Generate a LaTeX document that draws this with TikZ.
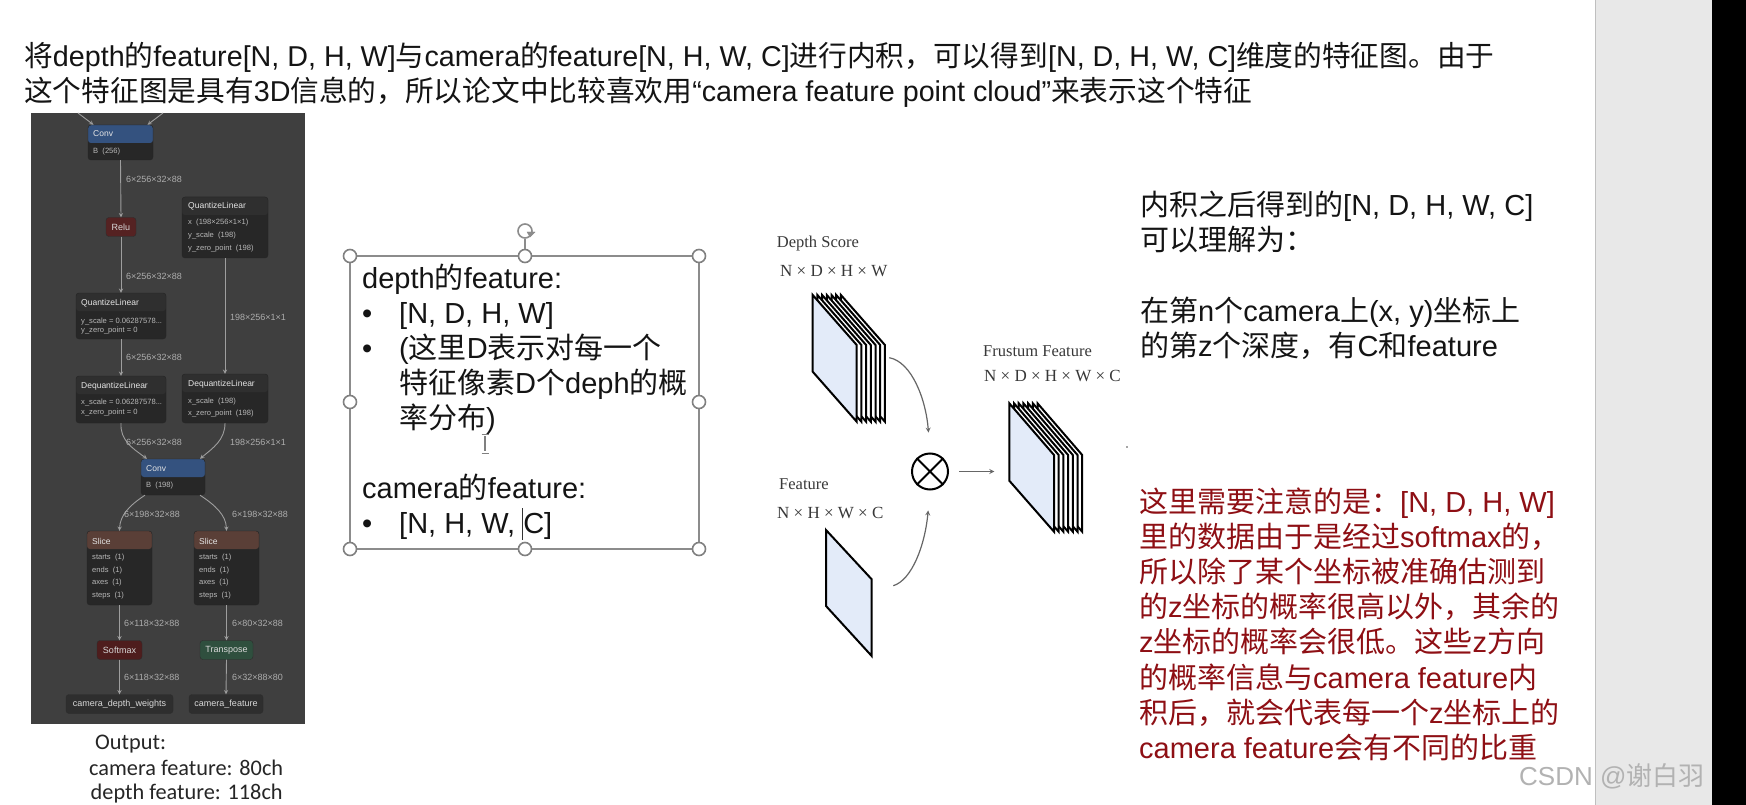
\documentclass[tikz,border=0pt]{standalone}
\usepackage{fontspec}
\setmainfont{Liberation Sans}
\newfontfamily\cjkfont{Noto Sans CJK SC}
\newfontfamily\timesfont{Liberation Serif}
\newfontfamily\calibrifont{Carlito}
\usetikzlibrary{positioning}
% Chinese characters switch to the CJK font by themselves
\newXeTeXintercharclass\cjkclass
\newcount\zhchar
\zhchar=32 \loop \XeTeXcharclass\zhchar=0 \advance\zhchar by 1 \ifnum\zhchar<127 \repeat
\XeTeXcharclass"00D7=0 \XeTeXcharclass"201C=0 \XeTeXcharclass"201D=0
\zhchar="4E00 \loop \XeTeXcharclass\zhchar=\cjkclass \advance\zhchar by 1 \ifnum\zhchar<"A000 \repeat
\XeTeXcharclass"3002=\cjkclass \XeTeXcharclass"FF0C=\cjkclass \XeTeXcharclass"FF1A=\cjkclass
\XeTeXinterchartokenstate=1
\XeTeXinterchartoks 0 \cjkclass={\begingroup\cjkfont}
\XeTeXinterchartoks 4095 \cjkclass={\begingroup\cjkfont}
\XeTeXinterchartoks \cjkclass 0={\endgroup}
\XeTeXinterchartoks \cjkclass 4095={\endgroup}
\definecolor{panelgrey}{HTML}{3F3F3F}
\definecolor{cardgrey}{HTML}{272727}
\definecolor{headgrey}{HTML}{2F2F2F}
\definecolor{convblue}{HTML}{34527F}
\definecolor{slicebrown}{HTML}{5A3F37}
\definecolor{relured}{HTML}{552222}
\definecolor{softred}{HTML}{4E1D1D}
\definecolor{transgreen}{HTML}{2F4F3E}
\definecolor{planeblue}{HTML}{E3EBF9}
\definecolor{notered}{HTML}{8E0F14}
\tikzset{
  bodytext/.style={anchor=base west,inner sep=0pt,text=black!92,font=\fontsize{29}{35}\selectfont},
  headtext/.style={bodytext,font=\fontsize{28.7}{35}\selectfont},
  opcard/.style n args={3}{draw=black!40!panelgrey,fill=cardgrey,rounded corners=3,inner sep=0pt,minimum width=#1,minimum height=#2,
    path picture={\fill[#3] (path picture bounding box.north west) rectangle ([yshift=-18pt]path picture bounding box.north east);}},
  pillcard/.style={draw=black!30!panelgrey,rounded corners=3,inner sep=0pt,minimum height=19pt,text=white!85!black,font=\fontsize{9}{10}\selectfont},
  cardtitle/.style={anchor=west,inner sep=0pt,text=white!90!black,font=\fontsize{8.5}{10}\selectfont},
  cardattr/.style={anchor=west,inner sep=0pt,text=white!72!black,font=\fontsize{7.6}{9}\selectfont},
  shapetext/.style={anchor=west,inner sep=0pt,text=white!68!black,font=\fontsize{9}{10}\selectfont},
  netline/.style={->,>=stealth,draw=white!62!black,line width=0.9pt},
  handle/.style={circle,draw=black!50,fill=white,line width=1.6pt,inner sep=0pt,minimum size=13pt},
  plane/.style={draw=black,line width=2pt,line join=miter},
  figtext/.style={anchor=base west,inner sep=0pt,text=black!78,font=\timesfont\fontsize{16.5}{20}\selectfont},
  figdim/.style={figtext,font=\timesfont\fontsize{17}{20}\selectfont},
  figline/.style={->,>=stealth,draw=black!60,line width=1.2pt},
  outtext/.style={anchor=base west,inner sep=0pt,font=\calibrifont\fontsize{22.3}{25}\selectfont,text=black!85},
}
\begin{document}
\begin{tikzpicture}[x=1pt,y=-1pt]
\useasboundingbox (0,0) rectangle (1746,805);
\fill[white] (0,0) rectangle (1746,805);
% window at the right
\fill[black!9] (1595,0) rectangle (1712,805);
\draw[black!25,line width=1pt] (1595,0) -- (1595,805);
\fill[black] (1712,0) rectangle (1746,805);
% heading
\node[headtext] (head1) at (24,67) {将depth的feature[N, D, H, W]与camera的feature[N, H, W, C]进行内积，可以得到[N, D, H, W, C]维度的特征图。由于};
\node[headtext] (head2) at (24,102) {这个特征图是具有3D信息的，所以论文中比较喜欢用“camera feature point cloud”来表示这个特征};
% network
\fill[panelgrey] (31,113) rectangle (305,724);
\node[opcard={65pt}{35pt}{convblue}] (conv1) at (120.5,142.5) {};
\node[pillcard,fill=relured,minimum width=30pt] (relu) at (121,227) {Relu};
\node[opcard={90pt}{46pt}{headgrey}] (qlleft) at (121,316) {};
\node[opcard={90pt}{47pt}{headgrey}] (dqleft) at (121,399.5) {};
\node[opcard={86pt}{61pt}{headgrey}] (qlright) at (225,227.5) {};
\node[opcard={86pt}{49pt}{headgrey}] (dqright) at (225,398.5) {};
\node[opcard={64pt}{36pt}{convblue}] (conv2) at (173,477) {};
\node[opcard={65pt}{74pt}{slicebrown}] (sliceleft) at (119.5,568) {};
\node[opcard={65pt}{74pt}{slicebrown}] (sliceright) at (226.5,568) {};
\node[pillcard,fill=softred,minimum width=45pt] (softmax) at (119.5,650) {Softmax};
\node[pillcard,fill=transgreen,minimum width=53pt] (transpose) at (226.5,650) {Transpose};
\node[pillcard,fill=cardgrey!70!panelgrey,minimum width=107pt] (depthweights) at (119.5,704) {camera\_depth\_weights};
\node[pillcard,fill=cardgrey!70!panelgrey,minimum width=74pt] (camfeature) at (226,704) {camera\_feature};
\node[cardtitle] (t1) at (93,134) {Conv};
\node[cardattr] (a1) at (93,152) {B\ \ (256)};
\node[cardtitle] (t2) at (81,303) {QuantizeLinear};
\node[cardattr] (a2) at (81,322) {y\_scale = 0.06287578...};
\node[cardattr] (a3) at (81,331) {y\_zero\_point = 0};
\node[cardtitle] (t3) at (81,386) {DequantizeLinear};
\node[cardattr] (a4) at (81,403) {x\_scale = 0.06287578...};
\node[cardattr] (a5) at (81,413) {x\_zero\_point = 0};
\node[cardtitle] (t4) at (188,206) {QuantizeLinear};
\node[cardattr] (a6) at (188,223) {x\ \ (198×256×1×1)};
\node[cardattr] (a7) at (188,236) {y\_scale\ \ (198)};
\node[cardattr] (a8) at (188,249) {y\_zero\_point\ \ (198)};
\node[cardtitle] (t5) at (188,384) {DequantizeLinear};
\node[cardattr] (a9) at (188,402) {x\_scale\ \ (198)};
\node[cardattr] (a10) at (188,414) {x\_zero\_point\ \ (198)};
\node[cardtitle] (t6) at (146,469) {Conv};
\node[cardattr] (a11) at (146,486) {B\ \ (198)};
\foreach \sx/\sname in {92/l,199/r}{
  \node[cardtitle] (slicetitle\sname) at (\sx,541) {Slice};
  \node[cardattr] (starts\sname) at (\sx,558) {starts\ \ (1)};
  \node[cardattr] (ends\sname) at (\sx,571) {ends\ \ (1)};
  \node[cardattr] (axes\sname) at (\sx,583) {axes\ \ (1)};
  \node[cardattr] (steps\sname) at (\sx,596) {steps\ \ (1)};
}
\coordinate (inleft) at (78,113);
\coordinate (inright) at (163,113);
\draw[netline] (inleft) -- ([xshift=-27pt]conv1.north);
\draw[netline] (inright) -- ([xshift=27pt]conv1.north);
\draw[netline] (conv1.south) -- (relu.north);
\draw[netline] (relu.south) -- (qlleft.north);
\draw[netline] (qlleft.south) -- (dqleft.north);
\draw[netline] (qlright.south) -- (dqright.north);
\draw[netline] (dqleft.south) .. controls (120,440) and (132,448) .. ([xshift=-26pt]conv2.north);
\draw[netline] (dqright.south) .. controls (225,440) and (213,448) .. ([xshift=27pt]conv2.north);
\draw[netline] ([xshift=-28pt]conv2.south) .. controls (130,505) and (120,515) .. (sliceleft.north);
\draw[netline] ([xshift=27pt]conv2.south) .. controls (215,505) and (226,515) .. (sliceright.north);
\draw[netline] (sliceleft.south) -- (softmax.north);
\draw[netline] (sliceright.south) -- (transpose.north);
\draw[netline] (softmax.south) -- (depthweights.north);
\draw[netline] (transpose.south) -- (camfeature.north);
\node[shapetext] (s1) at (126,179) {6×256×32×88};
\node[shapetext] (s2) at (126,276) {6×256×32×88};
\node[shapetext] (s3) at (126,357) {6×256×32×88};
\node[shapetext] (s4) at (230,317) {198×256×1×1};
\node[shapetext] (s5) at (126,442) {6×256×32×88};
\node[shapetext] (s6) at (230,442) {198×256×1×1};
\node[shapetext] (s7) at (124,514) {6×198×32×88};
\node[shapetext] (s8) at (232,514) {6×198×32×88};
\node[shapetext] (s9) at (124,623) {6×118×32×88};
\node[shapetext] (s10) at (232,623) {6×80×32×88};
\node[shapetext] (s11) at (124,677) {6×118×32×88};
\node[shapetext] (s12) at (232,677) {6×32×88×80};
% output channels
\node[outtext] (out1) at (95,749) {Output:};
\node[outtext] (out2) at (89,775) {camera feature: 80ch};
\node[outtext] (out3) at (90.5,799.5) {depth feature: 118ch};
% selected text box
\draw[black!45,line width=1.2pt] (350,256) rectangle (699,549);
\foreach \hx/\hy [count=\i] in {350/256,525/256,699/256,350/402,699/402,350/549,525/549,699/549}
  \node[handle] (handle\i) at (\hx,\hy) {};
\node[circle,draw=black!45,line width=1.6pt,inner sep=0pt,minimum size=14pt] (rotate) at (525,231) {};
\draw[black!45,line width=1.2pt] (rotate) -- (handle2);
\draw[black!45,fill=black!45] (527,232) -- (535,232) -- (530,237) -- cycle;
\node[bodytext] (boxa) at (362,288) {depth的feature:};
\node[bodytext] (boxb) at (362,323) {•};
\node[bodytext] (boxc) at (399,323) {[N, D, H, W]};
\node[bodytext] (boxd) at (362,358) {•};
\node[bodytext] (boxe) at (399,358) {(这里D表示对每一个};
\node[bodytext] (boxf) at (399,393) {特征像素D个deph的概};
\node[bodytext] (boxg) at (399,428) {率分布)};
\node[bodytext] (boxh) at (362,498) {camera的feature:};
\node[bodytext] (boxi) at (362,533) {•};
\node[bodytext] (boxj) at (399,533) {[N, H, W, C]};
\draw[black!80,line width=0.7pt] (522.3,508) -- (522.3,540);
\draw[black!50,line width=2pt] (485,436) -- (485,451);
\draw[black!50,line width=1pt] (481.5,434.5) -- (488.5,434.5) (481.5,453) -- (488.5,453);
% feature stacks
\foreach \i in {6,...,1}
  \draw[plane,fill=white] (812.7+\i*4.7,295) -- (856.7+\i*4.7,345) -- (856.7+\i*4.7,421.7) -- (812.7+\i*4.7,371.7) -- cycle;
\draw[plane,fill=planeblue] (812.7,295) -- (856.7,345) -- (856.7,421.7) -- (812.7,371.7) -- cycle;
\foreach \i in {6,...,1}
  \draw[plane,fill=white] (1009.3+\i*4.7,403.3) -- (1054+\i*4.7,455) -- (1054+\i*4.7,531.7) -- (1009.3+\i*4.7,480.7) -- cycle;
\draw[plane,fill=planeblue] (1009.3,403.3) -- (1054,455) -- (1054,531.7) -- (1009.3,480.7) -- cycle;
\draw[plane,fill=planeblue] (826,530) -- (871.7,579.3) -- (871.7,656) -- (826,606) -- cycle;
\node[circle,draw=black,line width=2pt,inner sep=0pt,minimum size=36pt] (otimes) at (930,471.5) {};
\draw[black,line width=2pt] (otimes.north west) -- (otimes.south east) (otimes.north east) -- (otimes.south west);
\coordinate (depthout) at (889.3,357.7);
\coordinate (featout) at (893.3,585.7);
\coordinate (frustumin) at (994.3,471.5);
\draw[figline,shorten >=20pt] (depthout) .. controls (912,362) and (926,400) .. (otimes.north);
\draw[figline,shorten >=20pt] (featout) .. controls (912,580) and (925,545) .. (otimes.south);
\draw[figline,shorten <=10pt] (otimes.east) -- (frustumin);
\node[figtext] (depthname) at (776.7,247.7) {Depth Score};
\node[figdim] (depthdim) at (780,276.7) {N × D × H × W};
\node[figtext] (featname) at (779,489) {Feature};
\node[figdim] (featdim) at (777,518) {N × H × W × C};
\node[figtext] (frustname) at (983,356.7) {Frustum Feature};
\node[figdim] (frustdim) at (984,381) {N × D × H × W × C};
\fill[black!70] (1127,447) circle (0.8);
% right hand notes
\foreach \txt/\ly [count=\i] in {{内积之后得到的[N, D, H, W, C]}/216,{可以理解为：}/251,{在第n个camera上(x, y)坐标上}/321,{的第z个深度，有C和feature}/356}
  \node[bodytext] (note\i) at (1140,\ly) {\txt};
\foreach \txt [count=\i] in {{这里需要注意的是：[N, D, H, W]},{里的数据由于是经过softmax的，},{所以除了某个坐标被准确估测到},{的z坐标的概率很高以外，其余的},{z坐标的概率会很低。这些z方向},{的概率信息与camera feature内},{积后，就会代表每一个z坐标上的},{camera feature会有不同的比重}}
  \node[bodytext,text=notered] (warn\i) at (1139,512+35.2*\i-35.2) {\txt};
\node[anchor=base west,inner sep=0pt,text=black!30!white,font=\fontsize{26}{30}\selectfont] (mark) at (1519,785) {CSDN @谢白羽};
\end{tikzpicture}
\end{document}
